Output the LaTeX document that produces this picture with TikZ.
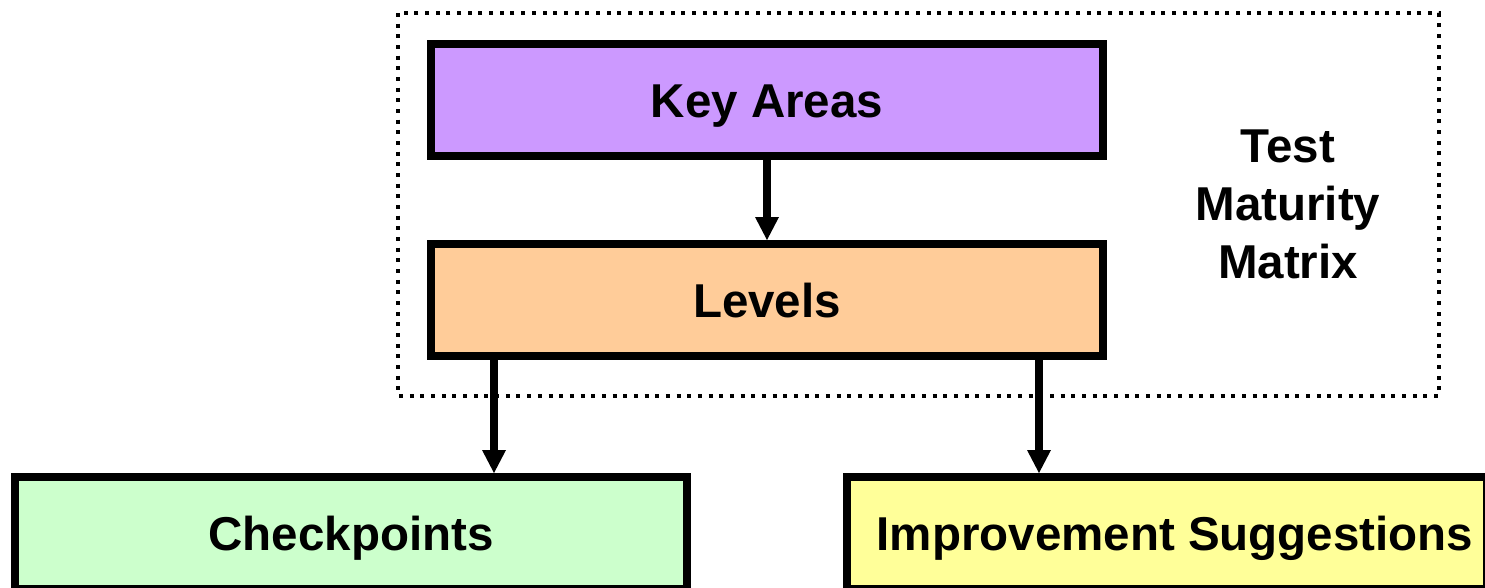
\documentclass[tikz,border=0pt]{standalone}
\usepackage{fontspec}
\setmainfont{Liberation Sans}
\usetikzlibrary{arrows.meta}
\definecolor{keyfill}{HTML}{CC99FF}
\definecolor{levfill}{HTML}{FFCC99}
\definecolor{cpfill}{HTML}{CCFFCC}
\definecolor{impfill}{HTML}{FFFF99}
\tikzset{
  boxnode/.style={draw=black, line width=8pt, rectangle, inner sep=0pt,
    minimum height=112pt, text height=34pt, text depth=0pt,
    font=\fontsize{47.5}{58}\selectfont\bfseries},
  arr/.style={line width=8pt, -{Triangle[width=24pt,length=23pt,line width=0pt]}},
  framebox/.style={draw=black, line width=4pt, dash pattern=on 4pt off 6.67pt}
}
\begin{document}
\begin{tikzpicture}[x=1pt,y=-1pt]
\useasboundingbox (0,0) rectangle (1485,587);
\clip (0,0) rectangle (1485,587);
\draw[framebox] (398,13) rectangle (1439,396);
\node[boxnode, fill=keyfill, minimum width=672pt] (key) at (767,100) {Key Areas};
\node[boxnode, fill=levfill, minimum width=672pt] (lev) at (767,300) {Levels};
\node[boxnode, fill=cpfill, minimum width=672pt] (cp) at (351,533) {Checkpoints};
\node[boxnode, fill=impfill, minimum width=640pt] (imp) at (1167,533) {\hspace*{16pt}Improvement Suggestions};
\node[inner sep=0pt, align=center, font=\fontsize{47.5}{58}\selectfont\bfseries] (tmm) at (1288,204.5) {Test\\Maturity\\Matrix};
\draw[arr] (key.south) -- (lev.north);
\coordinate (l1) at ([xshift=67pt]lev.south west);
\coordinate (r1) at ([xshift=-68pt]lev.south east);
\draw[arr] (l1) -- (l1 |- cp.north);
\draw[arr] (r1) -- (r1 |- imp.north);
\end{tikzpicture}
\end{document}
